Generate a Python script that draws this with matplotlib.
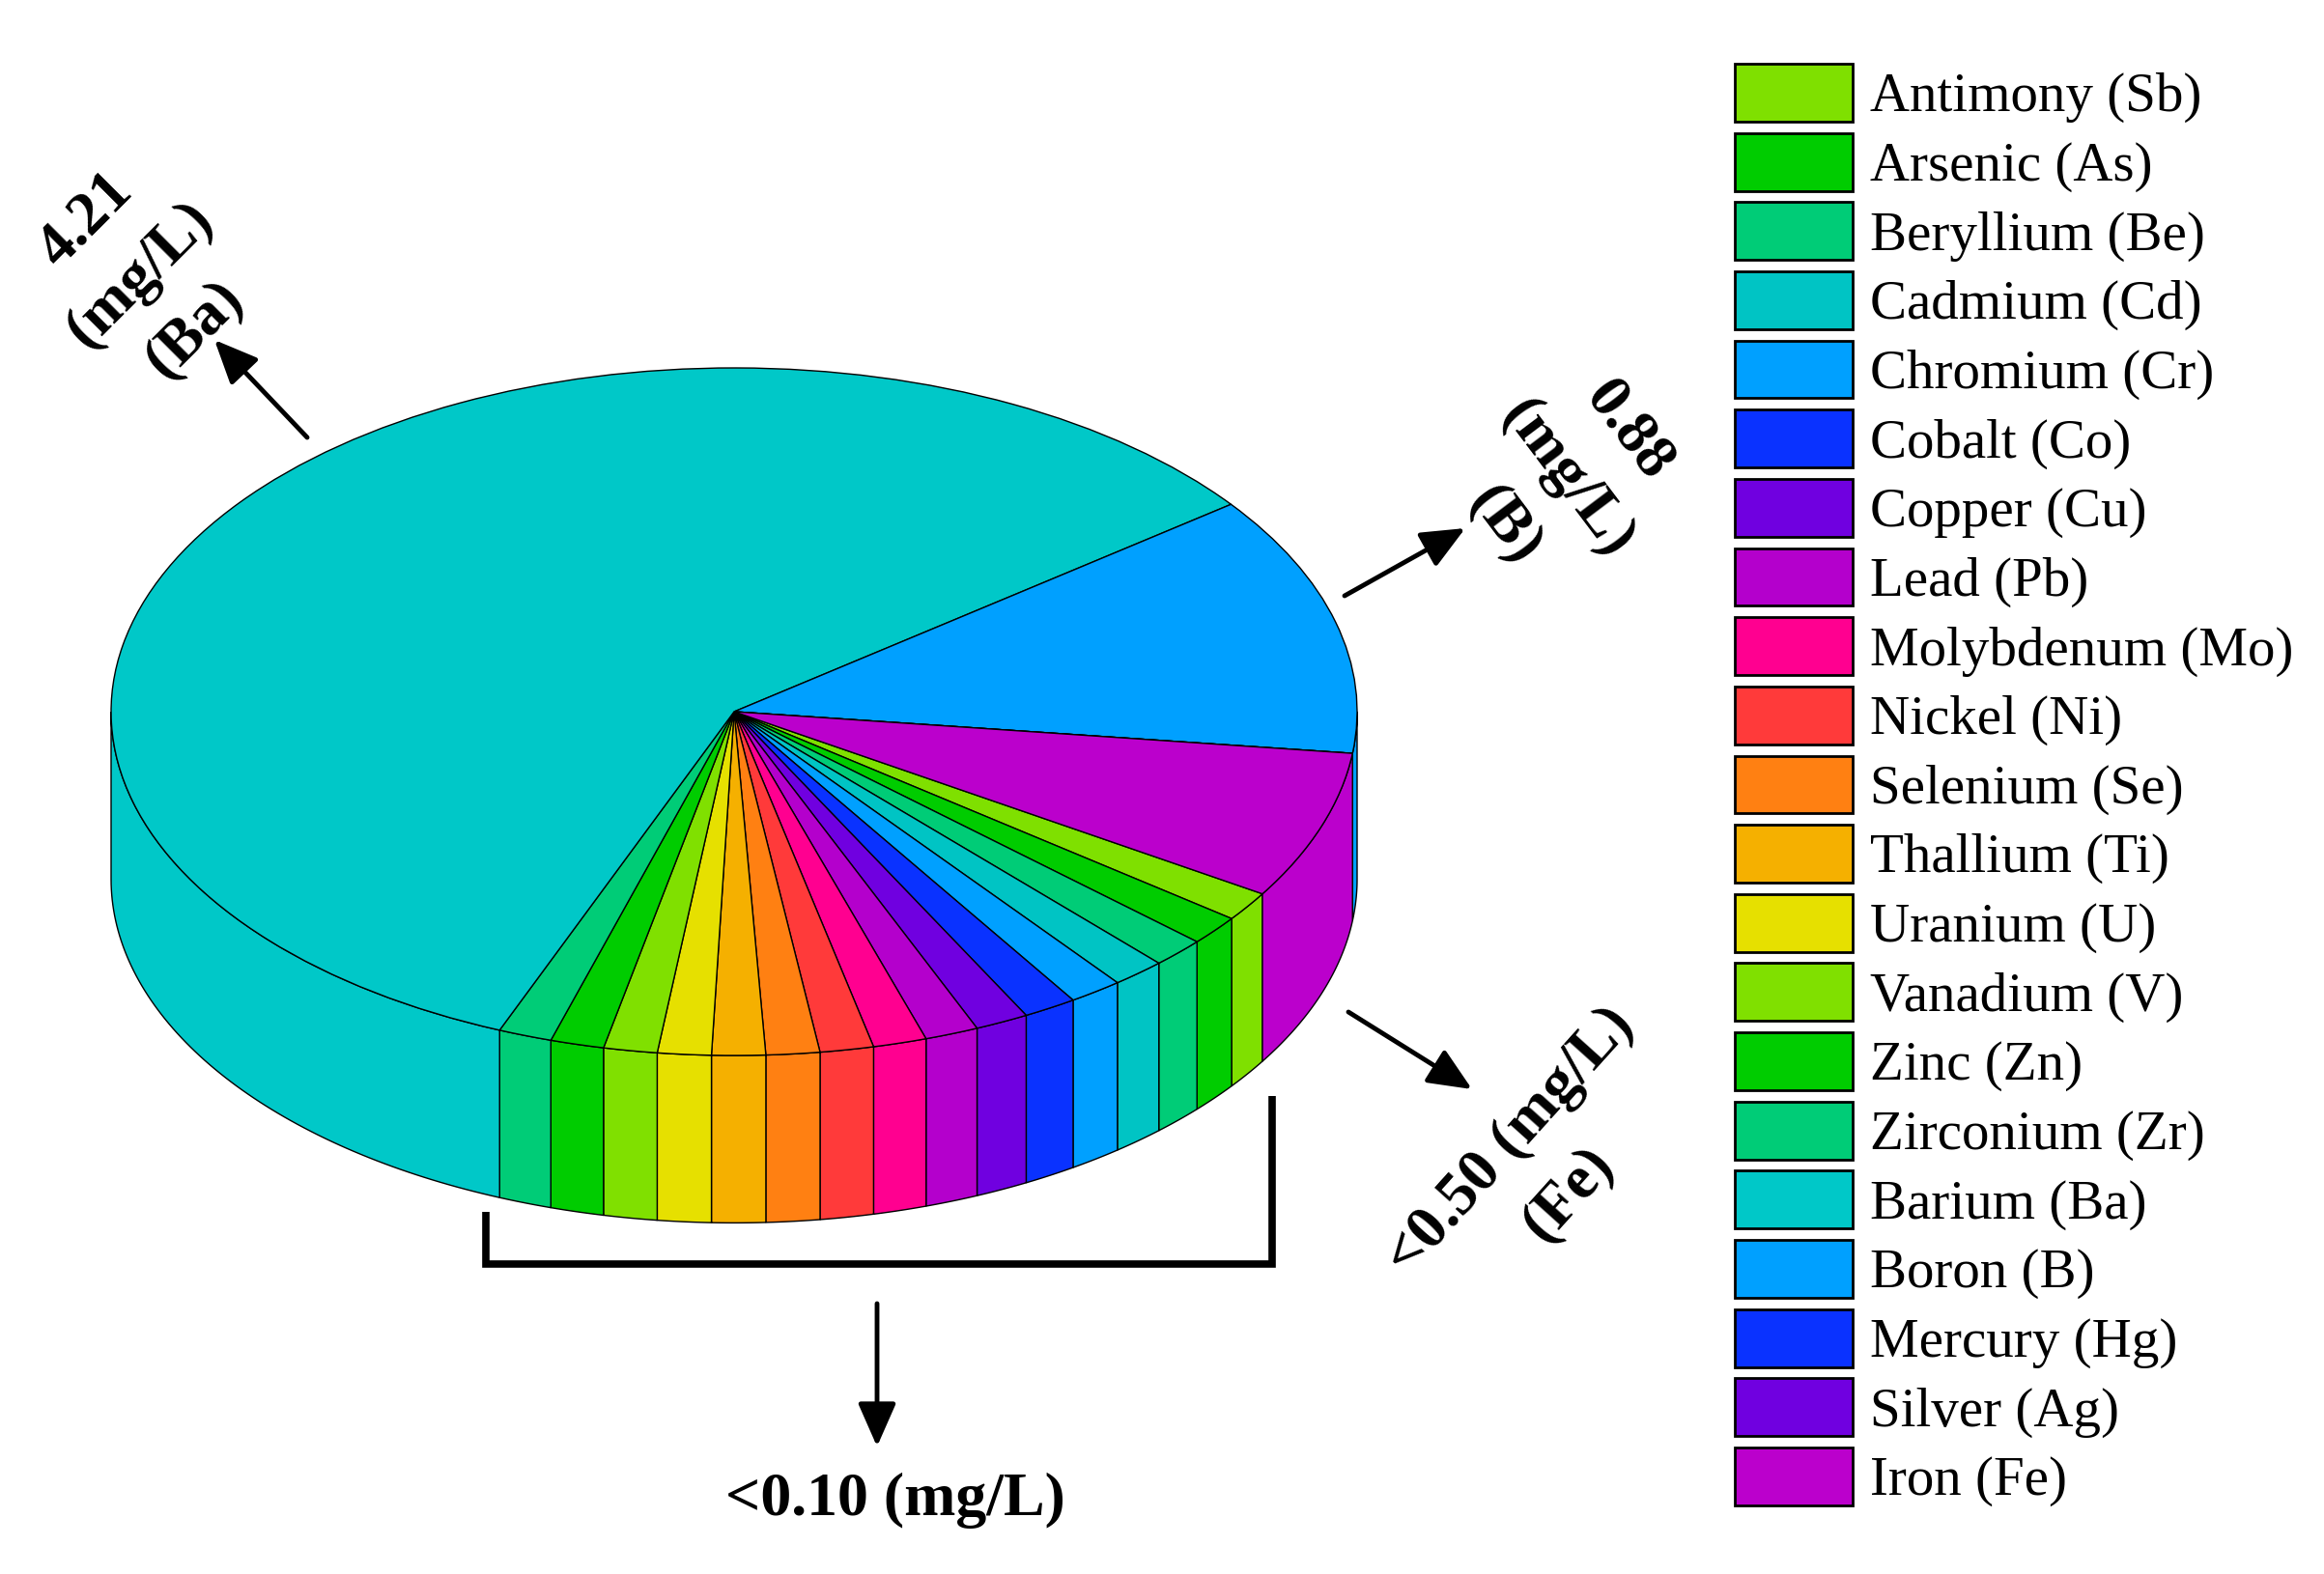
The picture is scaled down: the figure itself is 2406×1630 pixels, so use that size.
import matplotlib.pyplot as plt
import matplotlib.patches as mpatches
import numpy as np

plt.rcParams['font.family'] = ['Liberation Serif', 'DejaVu Serif']

# Elementos (orden de la leyenda = orden horario de las porciones)
elementos = ['Antimony (Sb)', 'Arsenic (As)', 'Beryllium (Be)', 'Cadmium (Cd)',
             'Chromium (Cr)', 'Cobalt (Co)', 'Copper (Cu)', 'Lead (Pb)',
             'Molybdenum (Mo)', 'Nickel (Ni)', 'Selenium (Se)', 'Thallium (Ti)',
             'Uranium (U)', 'Vanadium (V)', 'Zinc (Zn)', 'Zirconium (Zr)',
             'Barium (Ba)', 'Boron (B)', 'Mercury (Hg)', 'Silver (Ag)', 'Iron (Fe)']

# Concentraciones (mg/L)
valores = [0.10, 0.10, 0.10, 0.10, 0.10, 0.10, 0.10, 0.10,
           0.10, 0.10, 0.10, 0.10, 0.10, 0.10, 0.10, 0.10,
           4.21, 0.88, 0.0, 0.0, 0.50]

colores = ['#7fe000', '#00cc00', '#00cc77', '#00c4c4', '#00a0ff', '#0a32ff',
           '#7000e0', '#b400cc', '#ff0090', '#ff3a3a', '#ff8012', '#f5b000',
           '#e6e000', '#80e000', '#00cc00', '#00cc77', '#00c8c8', '#00a0ff',
           '#0a32ff', '#7000e0', '#bb00cc']

W, H = 2406, 1630


def fp(x, y):
    # pixel de la imagen -> fraccion de figura
    return (x / W, 1 - y / H)


fig = plt.figure(figsize=(W / 100, H / 100), dpi=100)
ax = fig.add_axes([0, 0, 1, 1])

wedges, _ = ax.pie(valores, colors=colores, startangle=-32, counterclock=False,
                   radius=1, wedgeprops=dict(edgecolor='black', linewidth=1.0, zorder=3))

# Lado del cilindro (solo la mitad frontal es visible)
grosor = 0.487
for w, c in zip(wedges, colores):
    t1, t2 = w.theta1, w.theta2
    for k in (-720, -360, 0, 360):
        lo = max(t1, 180 + k)
        hi = min(t2, 360 + k)
        if hi - lo > 1e-6:
            th = np.radians(np.linspace(lo, hi, 80))
            xs = np.concatenate([np.cos(th), np.cos(th[::-1])])
            ys = np.concatenate([np.sin(th), np.sin(th[::-1]) - grosor])
            ax.fill(xs, ys, facecolor=c, edgecolor='black', linewidth=1.0, zorder=1)

# Escala: centro en (760, 737) px, radio 645 px horizontal y 356 px vertical
cx, cy, rx, ry = 760, 737, 645, 356
ax.set_aspect('auto')
ax.set_xlim(-cx / rx, (W - cx) / rx)
ax.set_ylim(-(H - cy) / ry, cy / ry)
ax.axis('off')

# Flechas
flecha = dict(arrowstyle='-|>,head_length=0.5,head_width=0.22', color='black',
              lw=3.5, mutation_scale=55, shrinkA=0, shrinkB=0)
for cola, punta in [((318, 453), (222, 352)),
                    ((1392, 617), (1517, 547)),
                    ((1396, 1048), (1524, 1128)),
                    ((908, 1350), (908, 1498))]:
    ax.annotate('', xy=fp(*punta), xytext=fp(*cola), xycoords='figure fraction',
                textcoords='figure fraction', arrowprops=flecha)

# Corchete bajo las porciones pequenas
bx = [503, 503, 1317, 1317]
by = [1255, 1309, 1309, 1135]
ax.plot([x / W for x in bx], [1 - y / H for y in by], color='black', lw=5.5,
        transform=fig.transFigure, solid_joinstyle='miter', solid_capstyle='butt')

# Etiquetas
txt = dict(fontsize=46, fontweight='bold', ha='center', va='center',
           multialignment='center', rotation_mode='anchor', linespacing=1.5)
fig.text(*fp(145, 285), '4.21\n(mg/L)\n(Ba)', rotation=45, **txt)
fig.text(*fp(1622, 495), '0.88\n(mg/L)\n(B)', rotation=-53, **txt)
fig.text(*fp(1594, 1210), '<0.50 (mg/L)\n(Fe)', rotation=48, **txt)
fig.text(*fp(927, 1554), '<0.10 (mg/L)', rotation=0, **txt)

# Leyenda
handles = [mpatches.Patch(facecolor=c, edgecolor='black', linewidth=2.0) for c in colores]
fig.legend(handles, elementos, loc='upper left', bbox_to_anchor=fp(1796, 66),
           frameon=False, fontsize=41, handlelength=2.15, handleheight=1.24,
           labelspacing=0.182, handletextpad=0.3, borderaxespad=0, borderpad=0)

plt.savefig('out.png', dpi=100)
